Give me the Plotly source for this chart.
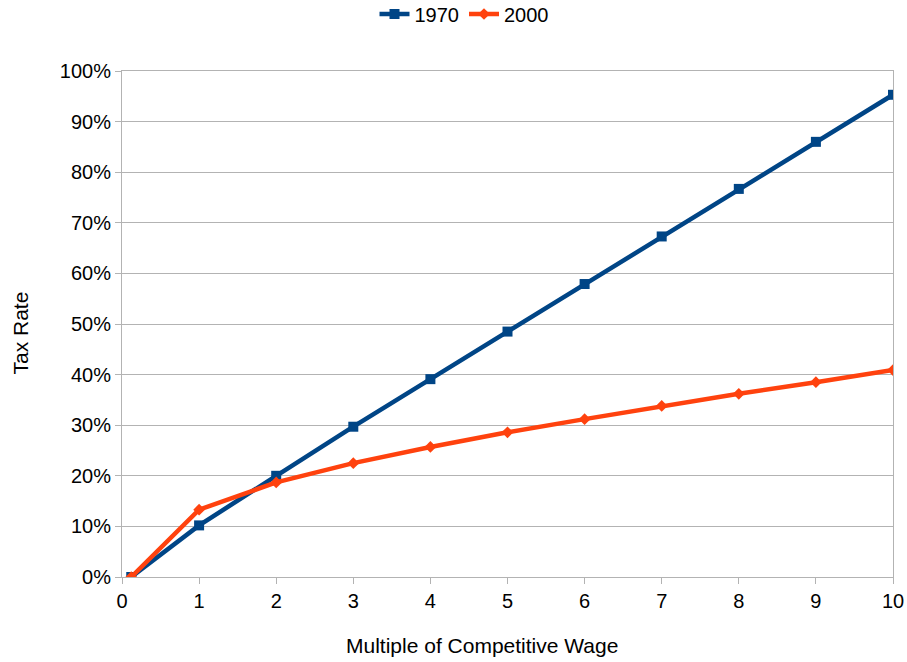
import plotly.graph_objects as go

x_vals = [0.12, 1, 2, 3, 4, 5, 6, 7, 8, 9, 10]
rate_1970 = [0.0, 10.2, 20.0, 29.7, 39.1, 48.5, 57.9, 67.3, 76.7, 86.0, 95.3]
rate_2000 = [0.0, 13.3, 18.7, 22.5, 25.7, 28.6, 31.2, 33.8, 36.2, 38.5, 40.9]
y_ticks = [0, 10, 20, 30, 40, 50, 60, 70, 80, 90, 100]
y_labels = [f"{v}%" for v in y_ticks]
x_title = "Multiple of Competitive Wage"
y_title = "Tax Rate"

fig = go.Figure()
fig.add_trace(go.Scatter(x=x_vals, y=rate_1970, name="1970", mode="lines+markers",
                         line=dict(color="#004586", width=4.5),
                         marker=dict(symbol="square", size=10, color="#004586")))
fig.add_trace(go.Scatter(x=x_vals, y=rate_2000, name="2000", mode="lines+markers",
                         line=dict(color="#ff420e", width=4.5),
                         marker=dict(symbol="diamond", size=9, color="#ff420e")))

PL, PT, PW, PH = 122, 71, 771, 506

fig.update_layout(
    width=907, height=662,
    margin=dict(l=PL, r=14, t=PT, b=85, autoexpand=False),
    paper_bgcolor="white", plot_bgcolor="white",
    font=dict(family="Liberation Sans, Arial, sans-serif", size=20, color="black"),
    legend=dict(orientation="h", x=(464 - PL) / PW, xanchor="center",
                y=1 + 57 / PH, yanchor="middle",
                font=dict(size=20), tracegroupgap=0),
    showlegend=True,
    annotations=[
        dict(text=x_title, xref="paper", yref="paper",
             x=(482 - PL) / PW, y=(PT + PH - 645) / PH,
             xanchor="center", yanchor="middle", showarrow=False,
             font=dict(size=21)),
        dict(text=y_title, xref="paper", yref="paper",
             x=(20 - PL) / PW, y=(PT + PH - 333.5) / PH,
             xanchor="center", yanchor="middle", showarrow=False, textangle=-90,
             font=dict(size=21)),
    ],
)
fig.update_xaxes(range=[0, 10], tickmode="array", tickvals=list(range(11)),
                 showgrid=False, showline=True, linecolor="#b3b3b3", linewidth=1,
                 mirror=True, ticks="outside", tickcolor="#b3b3b3", ticklen=6,
                 zeroline=False, automargin=False)
fig.update_yaxes(range=[0, 100], tickmode="array", tickvals=y_ticks, ticktext=y_labels,
                 showgrid=True, gridcolor="#b3b3b3", gridwidth=1,
                 showline=True, linecolor="#b3b3b3", linewidth=1, mirror=True,
                 ticks="outside", tickcolor="#b3b3b3", ticklen=6, zeroline=False,
                 automargin=False)

fig.write_html("out.html", config={"displayModeBar": False},
               post_script="document.body.style.margin='0';document.body.style.overflow='hidden';")
